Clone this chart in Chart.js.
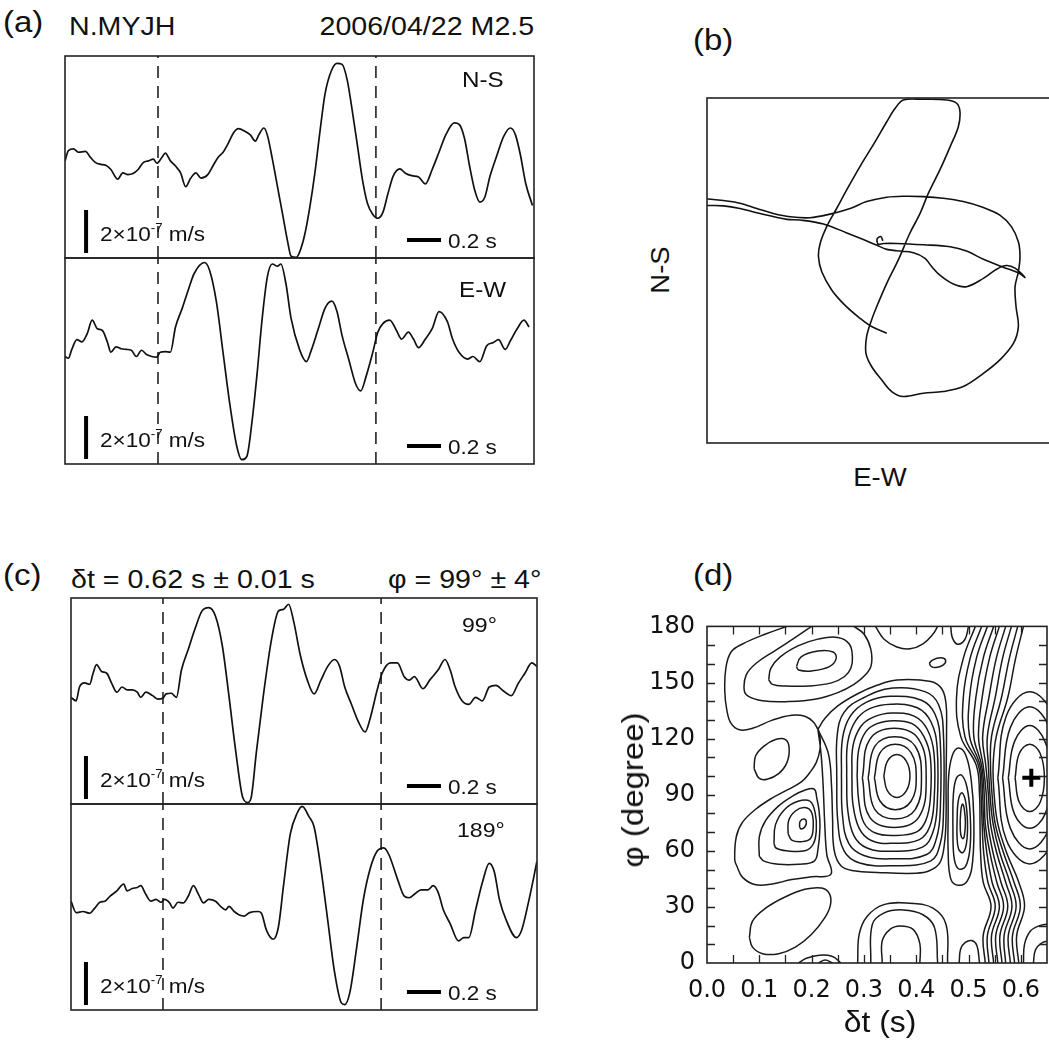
<!DOCTYPE html>
<html lang="en">
<head>
<meta charset="utf-8">
<title>N.MYJH shear-wave splitting</title>
<script src="https://cdn.jsdelivr.net/npm/chart.js@4.4.1/dist/chart.umd.min.js"></script>
<style>
  html, body { margin: 0; padding: 0; background: #fff; }
  body { position: relative; width: 1049px; height: 1043px; overflow: hidden; }
  canvas { position: absolute; }
  .t { position: absolute; font-family: "Liberation Sans", Arial, Helvetica, sans-serif; color: #111; line-height: 1; white-space: nowrap; }
  .l { transform-origin: 0 50%; transform: scaleX(1.1); }
  .r { transform-origin: 100% 50%; transform: scaleX(1.1); }
  .c { transform: translate(-50%, -50%) scaleX(1.1); }
  .v { transform: translate(-50%, -50%) rotate(-90deg) scaleX(1.1); }
  .sup { font-size: 12px; position: relative; top: -9px; }
</style>
</head>
<body>
<!-- (a) -->
<div class="t l" style="left:3px;top:7px;font-size:30px">(a)</div>
<div class="t l" style="left:69px;top:13px;font-size:26px">N.MYJH</div>
<div class="t r" style="right:515px;top:13px;font-size:26px">2006/04/22 M2.5</div>
<canvas id="ns" width="475" height="208" style="left:62px;top:53px"></canvas>
<canvas id="ew" width="475" height="212" style="left:62px;top:255px"></canvas>
<div class="t l" style="left:462px;top:69px;font-size:22px">N-S</div>
<div class="t l" style="left:459px;top:279px;font-size:22px">E-W</div>
<div class="t l" style="left:100px;top:224px;font-size:20.5px">2×10<span class="sup">-7</span> m/s</div>
<div class="t l" style="left:448px;top:231px;font-size:20.5px">0.2 s</div>
<div class="t l" style="left:100px;top:430px;font-size:20.5px">2×10<span class="sup">-7</span> m/s</div>
<div class="t l" style="left:448px;top:437px;font-size:20.5px">0.2 s</div>

<!-- (b) -->
<div class="t l" style="left:693px;top:25px;font-size:30px">(b)</div>
<canvas id="motion" width="351" height="351" style="left:704px;top:95px"></canvas>
<div class="t v" style="left:660px;top:270px;font-size:25px">N-S</div>
<div class="t c" style="left:880px;top:477px;font-size:25px">E-W</div>

<!-- (c) -->
<div class="t l" style="left:3px;top:560px;font-size:30px">(c)</div>
<div class="t l" style="left:71px;top:566px;font-size:26px">δt = 0.62 s ± 0.01 s</div>
<div class="t r" style="right:508px;top:566px;font-size:26px">φ = 99° ± 4°</div>
<canvas id="fast" width="472" height="212" style="left:68px;top:595px"></canvas>
<canvas id="slow" width="472" height="212" style="left:68px;top:801px"></canvas>
<div class="t l" style="left:462px;top:614px;font-size:21px">99°</div>
<div class="t l" style="left:457px;top:819px;font-size:21px">189°</div>
<div class="t l" style="left:100px;top:770px;font-size:20.5px">2×10<span class="sup">-7</span> m/s</div>
<div class="t l" style="left:448px;top:777px;font-size:20.5px">0.2 s</div>
<div class="t l" style="left:100px;top:976px;font-size:20.5px">2×10<span class="sup">-7</span> m/s</div>
<div class="t l" style="left:448px;top:983px;font-size:20.5px">0.2 s</div>

<!-- (d) -->
<div class="t l" style="left:693px;top:560px;font-size:30px">(d)</div>
<canvas id="grid" width="460" height="420" style="left:600px;top:600px"></canvas>
<div class="t v" style="left:633px;top:790px;font-size:30px">φ (degree)</div>
<div class="t c" style="left:880px;top:1022px;font-size:29px">δt (s)</div>

<script>
// ---- waveforms: [time (s), velocity (1e-7 m/s)] ----
const nsTrace = [[0.00,-0.18],[0.02,0.30],[0.05,0.38],[0.08,0.22],[0.12,0.26],[0.15,-0.02],[0.18,-0.26],[0.21,-0.34],[0.24,-0.38],[0.27,-0.58],[0.31,-1.03],[0.34,-0.74],[0.37,-0.82],[0.40,-0.77],[0.43,-0.58],[0.46,-0.26],[0.49,-0.18],[0.52,-0.10],[0.54,-0.29],[0.57,-0.02],[0.59,0.18],[0.62,-0.18],[0.65,-0.42],[0.68,-0.74],[0.71,-1.38],[0.74,-0.98],[0.77,-0.74],[0.80,-0.98],[0.84,-0.82],[0.87,-0.42],[0.90,-0.02],[0.93,0.22],[0.96,0.63],[0.99,1.11],[1.02,1.32],[1.06,1.19],[1.09,1.03],[1.12,0.74],[1.14,1.03],[1.17,1.35],[1.19,1.03],[1.22,-0.10],[1.25,-1.38],[1.28,-2.66],[1.31,-3.95],[1.33,-4.62],[1.36,-4.67],[1.38,-4.43],[1.41,-3.62],[1.44,-2.34],[1.47,-0.74],[1.50,1.19],[1.53,2.95],[1.57,4.07],[1.60,4.36],[1.63,4.31],[1.66,3.59],[1.69,2.15],[1.72,0.55],[1.75,-1.06],[1.78,-2.18],[1.81,-2.66],[1.84,-2.85],[1.87,-2.58],[1.90,-1.70],[1.93,-0.90],[1.97,-0.55],[2.00,-0.74],[2.04,-0.87],[2.08,-0.93],[2.12,-1.25],[2.16,-0.58],[2.20,0.22],[2.24,1.03],[2.29,1.59],[2.32,1.51],[2.35,0.87],[2.38,-0.42],[2.41,-1.54],[2.44,-2.10],[2.47,-1.86],[2.50,-0.90],[2.54,0.06],[2.58,0.95],[2.62,1.35],[2.65,1.03],[2.68,0.06],[2.71,-1.22],[2.75,-2.26]];
const ewTrace = [[0.00,0.21],[0.02,0.13],[0.04,0.54],[0.07,0.99],[0.10,0.89],[0.13,1.26],[0.16,1.90],[0.19,1.50],[0.22,1.42],[0.25,0.86],[0.27,0.41],[0.30,0.66],[0.33,0.57],[0.36,0.54],[0.39,0.50],[0.42,0.21],[0.45,0.50],[0.48,0.30],[0.51,0.21],[0.54,0.18],[0.56,0.41],[0.59,0.44],[0.62,0.41],[0.65,1.58],[0.69,2.46],[0.73,3.42],[0.76,4.07],[0.82,4.58],[0.85,4.23],[0.89,2.78],[0.93,0.38],[0.97,-2.03],[1.01,-3.95],[1.04,-4.59],[1.07,-4.43],[1.10,-2.83],[1.13,-0.59],[1.16,1.98],[1.19,3.90],[1.22,4.51],[1.25,4.41],[1.27,4.51],[1.30,3.58],[1.33,1.98],[1.38,0.53],[1.42,-0.03],[1.45,0.53],[1.49,1.50],[1.53,2.46],[1.57,2.78],[1.60,2.30],[1.63,1.18],[1.67,0.05],[1.71,-1.07],[1.74,-1.39],[1.77,-0.75],[1.81,0.38],[1.84,1.34],[1.87,1.74],[1.91,1.90],[1.95,1.42],[1.98,1.02],[2.02,1.34],[2.05,1.02],[2.08,0.62],[2.12,1.02],[2.16,1.50],[2.20,2.30],[2.25,1.82],[2.28,1.02],[2.32,0.38],[2.37,0.09],[2.40,0.21],[2.44,-0.03],[2.48,0.70],[2.52,0.86],[2.55,0.99],[2.59,0.54],[2.62,0.94],[2.66,1.50],[2.70,1.90],[2.73,1.58]];
const fastTrace = [[0.00,0.17],[0.03,0.01],[0.05,0.65],[0.08,0.84],[0.11,0.78],[0.13,1.29],[0.15,1.69],[0.18,1.37],[0.21,1.29],[0.24,0.81],[0.27,0.41],[0.30,0.65],[0.33,0.52],[0.36,0.52],[0.39,0.41],[0.41,0.17],[0.44,0.41],[0.48,0.25],[0.51,0.09],[0.54,0.13],[0.56,0.33],[0.59,0.36],[0.62,0.17],[0.65,1.45],[0.69,2.41],[0.73,3.37],[0.77,4.18],[0.81,4.34],[0.85,3.94],[0.89,2.57],[0.93,0.17],[0.97,-2.40],[1.01,-4.48],[1.04,-4.72],[1.06,-4.48],[1.09,-2.40],[1.13,0.17],[1.18,2.89],[1.22,4.18],[1.25,4.26],[1.28,4.50],[1.31,3.69],[1.35,2.09],[1.39,0.97],[1.43,0.33],[1.47,0.97],[1.51,1.61],[1.55,1.93],[1.58,1.61],[1.61,0.65],[1.65,-0.16],[1.69,-0.96],[1.73,-1.44],[1.76,-0.80],[1.80,0.49],[1.83,1.29],[1.88,1.77],[1.92,1.77],[1.96,1.13],[1.99,0.97],[2.02,1.13],[2.07,0.57],[2.11,0.97],[2.16,1.45],[2.20,1.93],[2.23,1.45],[2.26,0.65],[2.30,0.01],[2.34,-0.16],[2.38,0.17],[2.42,0.01],[2.46,0.65],[2.50,0.73],[2.54,0.49],[2.59,0.25],[2.63,0.81],[2.67,1.29],[2.71,1.77],[2.74,1.61]];
const slowTrace = [[0.00,0.27],[0.03,-0.26],[0.07,-0.21],[0.11,-0.29],[0.14,-0.05],[0.17,0.22],[0.20,0.27],[0.23,0.51],[0.27,0.75],[0.31,1.07],[0.33,0.75],[0.36,0.86],[0.39,0.91],[0.41,0.99],[0.44,0.59],[0.47,0.27],[0.50,0.35],[0.53,0.22],[0.55,0.35],[0.58,0.19],[0.60,-0.05],[0.63,0.22],[0.66,0.19],[0.69,0.51],[0.72,0.99],[0.75,0.59],[0.78,0.19],[0.81,0.35],[0.85,0.27],[0.88,0.03],[0.91,-0.13],[0.93,0.03],[0.96,-0.21],[0.99,-0.37],[1.02,-0.42],[1.05,-0.26],[1.10,-0.21],[1.12,-0.29],[1.15,-1.09],[1.19,-1.50],[1.22,-0.93],[1.25,0.99],[1.29,3.40],[1.33,4.36],[1.36,4.68],[1.40,4.20],[1.43,3.72],[1.47,1.79],[1.51,-0.61],[1.55,-3.02],[1.59,-4.46],[1.61,-4.54],[1.64,-3.98],[1.68,-1.90],[1.72,0.36],[1.76,1.79],[1.80,2.59],[1.84,2.75],[1.87,2.43],[1.92,1.31],[1.96,0.51],[1.99,0.43],[2.02,0.59],[2.06,0.80],[2.10,0.80],[2.13,0.99],[2.16,0.67],[2.19,-0.13],[2.23,-0.77],[2.28,-1.58],[2.31,-1.42],[2.34,-1.42],[2.38,-0.13],[2.42,1.15],[2.46,2.03],[2.49,1.63],[2.52,0.35],[2.56,-0.61],[2.62,-1.42],[2.65,-1.09],[2.69,0.19],[2.72,1.31],[2.74,2.11]];

// analysis windows (s)
const rawWindow = [0.547, 1.829];
const corrWindow = [0.541, 1.824];

// ---- particle motion: [E-W, N-S] (1e-7 m/s) ----
const motionPath = [[0.10,0.90],[0.04,1.03],[-0.07,0.96],[-0.04,0.80],[0.12,0.82],[0.52,0.82],[1.33,0.78],[2.14,0.72],[2.64,0.59],[3.15,0.34],[3.75,0.10],[4.21,-0.07],[4.41,-0.21],[4.11,0.07],[3.85,0.15],[3.55,0.04],[3.15,-0.24],[2.64,-0.49],[2.24,-0.41],[1.83,-0.14],[1.58,0.12],[1.38,0.37],[1.03,0.54],[0.52,0.60],[0.22,0.64],[-0.09,0.77],[-0.49,0.94],[-0.99,1.14],[-1.70,1.41],[-2.41,1.53],[-2.81,1.55],[-3.72,1.75],[-4.23,1.88],[-4.73,1.96],[-5.19,1.97],[-5.49,1.98],[-5.49,2.18],[-5.19,2.17],[-4.73,2.12],[-4.23,2.04],[-3.72,1.88],[-3.22,1.73],[-2.71,1.63],[-2.11,1.60],[-1.50,1.71],[-0.89,1.88],[-0.39,2.09],[0.22,2.22],[0.72,2.25],[1.33,2.24],[1.93,2.19],[2.54,2.09],[3.15,1.91],[3.65,1.68],[4.00,1.33],[4.21,0.87],[4.26,0.42],[4.21,-0.04],[4.11,-0.49],[4.14,-1.10],[4.21,-1.70],[4.06,-2.21],[3.65,-2.71],[3.15,-3.12],[2.54,-3.52],[1.93,-3.67],[1.33,-3.72],[0.72,-3.82],[0.37,-3.67],[0.07,-3.32],[-0.24,-2.91],[-0.41,-2.51],[-0.39,-2.00],[-0.24,-1.50],[-0.04,-0.99],[0.22,-0.39],[0.57,0.32],[0.92,1.13],[1.23,1.73],[1.48,2.34],[1.83,3.05],[2.14,3.75],[2.39,4.36],[2.44,4.81],[2.34,5.07],[2.04,5.17],[1.33,5.19],[0.72,5.17],[0.47,4.91],[0.22,4.51],[-0.14,3.89],[-0.54,3.24],[-0.94,2.54],[-1.30,1.88],[-1.60,1.33],[-1.80,0.82],[-1.85,0.42],[-1.75,-0.04],[-1.45,-0.59],[-1.05,-1.05],[-0.59,-1.45],[-0.24,-1.70],[0.22,-1.90]];

// ---- energy contours: [dt (s), phi (deg)] ----
const ulCore = [[0.171,158.5],[0.180,163.7],[0.212,166.8],[0.241,166.3],[0.247,162.9],[0.234,158.5],[0.200,156.2],[0.175,156.7],[0.171,158.5]];
const ulRing = [[0.118,151.5],[0.122,157.6],[0.140,163.7],[0.175,169.7],[0.212,173.2],[0.250,174.1],[0.272,170.6],[0.278,163.7],[0.275,157.6],[0.263,153.2],[0.238,149.8],[0.194,148.1],[0.150,148.1],[0.125,149.0],[0.118,151.5]];
const ulOpen = [[0.200,180],[0.169,174.1],[0.131,167.2],[0.094,160.3],[0.075,154.1],[0.071,146.3],[0.078,142.8],[0.106,140.2],[0.156,139.8],[0.206,141],[0.250,144.6],[0.281,149],[0.303,154.1],[0.314,159.3],[0.313,168],[0.300,175.9],[0.281,180]];
const ulRim = [[0.153,180],[0.112,175.9],[0.068,170.6],[0.046,166.3],[0.036,157.6],[0.034,145.5],[0.038,135.1],[0.046,128.1],[0.062,124.7],[0.087,125.5],[0.125,129.9],[0.162,132.5],[0.187,132],[0.203,129],[0.212,125]];
const midIsle = [[0.090,103.9],[0.093,110.8],[0.109,116],[0.131,119.5],[0.150,119.5],[0.157,115.1],[0.153,107.3],[0.137,101.3],[0.115,98.3],[0.100,98.7],[0.090,103.9]];

const llCore = [[0.177,72.7],[0.178,75.8],[0.186,77],[0.190,75.3],[0.187,72.7],[0.180,71.6],[0.177,72.7]];
const llRing1 = [[0.155,69.2],[0.156,76.1],[0.169,81.3],[0.187,83.1],[0.200,80.5],[0.203,72.7],[0.198,66.6],[0.181,64.9],[0.162,65.7],[0.155,69.2]];
const llRing2 = [[0.128,64],[0.131,74],[0.148,82],[0.174,86.5],[0.197,86.5],[0.207,80],[0.209,71],[0.203,63.5],[0.187,60],[0.152,60],[0.132,61.5],[0.128,64]];
const llRing3 = [[0.100,57.1],[0.100,67.5],[0.112,76.1],[0.137,84],[0.165,89.5],[0.188,92.5],[0.205,93],[0.210,88],[0.214,82],[0.216,72.7],[0.212,60.5],[0.205,54.5],[0.175,52.8],[0.137,52.8],[0.109,54.5],[0.100,57.1]];
const llRing4 = [[0.212,125],[0.218,112],[0.222,95],[0.225,75],[0.229,58],[0.237,47.5],[0.200,46.1],[0.162,44.6],[0.125,42.3],[0.093,41.8],[0.068,45.8],[0.057,51.9],[0.053,55.3],[0.056,67.5],[0.068,75.3],[0.093,82.2],[0.125,88.3],[0.150,92],[0.181,97],[0.197,102],[0.209,107.3],[0.216,114.3],[0.216,121.2],[0.212,125]];

const lowIsle = [[0.081,13.7],[0.087,22.4],[0.112,29.3],[0.150,35.4],[0.187,39.4],[0.219,40.1],[0.234,37.1],[0.236,31.1],[0.225,24.1],[0.200,15.4],[0.169,8.5],[0.137,5.0],[0.106,5.0],[0.087,8.5],[0.081,13.7]];
const lowArc = [[0.175,0],[0.190,2.5],[0.215,4.2],[0.240,3.5],[0.256,0]];
const lowArcIn = [[0.213,0],[0.226,1.6],[0.240,0]];

const dRing0 = [[0.338,100],[0.345,108],[0.363,111.5],[0.381,108],[0.388,100],[0.381,92],[0.363,88.5],[0.345,92],[0.338,100]];
const dRing1 = [[0.320,99],[0.331,112.5],[0.360,117],[0.390,112.5],[0.400,99],[0.390,86.5],[0.360,82],[0.331,86.5],[0.320,99]];
const dRing2 = [[0.308,99],[0.321,116],[0.359,121],[0.398,116],[0.410,99],[0.398,82],[0.359,77],[0.321,82],[0.308,99]];
const dRing3 = [[0.297,99],[0.311,119.5],[0.358,125.5],[0.405,119.5],[0.419,99],[0.405,78],[0.358,72.5],[0.311,78],[0.297,99]];
const dRing4 = [[0.287,100],[0.290,114],[0.303,123.5],[0.325,128],[0.357,129.6],[0.392,128],[0.414,121.5],[0.427,110],[0.427,88],[0.418,76],[0.400,70],[0.357,68.2],[0.322,69.5],[0.300,75],[0.290,87],[0.287,100]];
const dRing5 = [[0.277,100],[0.279,116],[0.294,126.5],[0.318,131.5],[0.354,133.7],[0.396,132],[0.421,125],[0.434,112],[0.434,86],[0.426,73],[0.406,66],[0.354,64],[0.314,65.5],[0.291,72],[0.279,85],[0.277,100]];
const dRing6 = [[0.267,100],[0.269,118],[0.284,129.5],[0.311,136],[0.352,138.4],[0.402,136.5],[0.428,129],[0.440,115],[0.440,84],[0.432,70],[0.412,62],[0.352,59.8],[0.306,61.5],[0.281,68],[0.269,82],[0.267,100]];
const dRing7 = [[0.257,100],[0.259,120],[0.274,132],[0.305,139.5],[0.350,142.6],[0.410,140.5],[0.436,133],[0.446,118],[0.446,82],[0.439,67],[0.420,58],[0.350,55.7],[0.300,57.5],[0.271,64],[0.259,79],[0.257,100]];
const dRing8 = [[0.248,100],[0.249,122],[0.262,134],[0.297,141.5],[0.355,147],[0.418,145],[0.443,138],[0.452,122],[0.452,80],[0.446,64],[0.427,54.5],[0.355,52],[0.292,53.5],[0.262,60],[0.250,76],[0.248,100]];
const dRing9 = [[0.212,125],[0.226,131],[0.250,137.5],[0.288,144],[0.325,148.5],[0.363,151.4],[0.428,150.5],[0.449,146.5],[0.457,138.5],[0.458,126],[0.457,95],[0.457,78],[0.454,64],[0.445,53.5],[0.425,49.3],[0.400,48],[0.325,48.4],[0.281,49.3],[0.256,52],[0.243,60.5],[0.240,78],[0.238,95],[0.232,112],[0.212,125]];

const eRing0 = [[0.335,0],[0.335,11.9],[0.350,18],[0.369,19.8],[0.394,18],[0.407,10.2],[0.407,0]];
const eRing1 = [[0.313,0],[0.316,20.6],[0.338,26.7],[0.375,28.4],[0.413,25.8],[0.435,18.9],[0.441,0]];
const eRing2 = [[0.288,0],[0.291,15.4],[0.306,24.9],[0.338,31.2],[0.388,31.9],[0.432,29.3],[0.457,20.6],[0.460,0]];
const eTopArc = [[0.322,180],[0.338,173.3],[0.363,169],[0.388,168],[0.413,170.7],[0.432,175.9],[0.441,180]];
const fIsle = [[0.425,160.2],[0.431,162],[0.447,163.2],[0.456,162],[0.452,159.4],[0.438,158],[0.429,158.5],[0.425,160.2]];
const gArc = [[0.466,180],[0.469,174],[0.479,170.5],[0.493,173],[0.500,180]];
const kArc = [[0.482,0],[0.485,7.6],[0.494,11],[0.506,12],[0.516,9.4],[0.521,0]];

const hRing0 = [[0.484,76],[0.486,83],[0.489,85],[0.492,82],[0.494,75],[0.492,68],[0.489,66.5],[0.485,69],[0.484,76]];
const hRing1 = [[0.478,75],[0.480,86],[0.487,91],[0.494,87],[0.498,75],[0.496,64],[0.489,59],[0.481,61],[0.478,68],[0.478,75]];
const hRing2 = [[0.470,75],[0.471,90],[0.477,99],[0.487,100.4],[0.497,94],[0.503,80],[0.503,62],[0.494,51.5],[0.480,50.5],[0.472,57],[0.470,75]];
const hRing3 = [[0.461,80],[0.462,100],[0.469,111],[0.481,115],[0.495,111],[0.505,98],[0.510,78],[0.508,55],[0.498,44],[0.480,41.6],[0.466,45],[0.461,60],[0.461,80]];

const jRing0 = [[0.589,99],[0.597,112],[0.617,117],[0.637,112],[0.645,99],[0.637,86],[0.617,81],[0.597,86],[0.589,99]];
const jRing1 = [[0.576,99],[0.588,118.5],[0.617,127],[0.646,118.5],[0.658,99],[0.646,79.5],[0.617,72],[0.588,79.5],[0.576,99]];
const jRing2 = [[0.565,99],[0.580,126],[0.617,137],[0.654,126],[0.669,99],[0.654,72],[0.617,61],[0.580,72],[0.565,99]];
const jRing3 = [[0.556,99],[0.572,132],[0.617,145],[0.662,132],[0.678,99],[0.662,66],[0.617,53],[0.572,66],[0.556,99]];
const jLowArc1 = [[0.605,0],[0.607,10],[0.618,17],[0.636,20],[0.660,21]];
const jLowArc2 = [[0.624,0],[0.628,7],[0.642,11],[0.660,12]];

// steep band between the two minima: shared phi levels, one dt row per line
const bandPhi = [180, 162.9, 142, 121.2, 105.6, 90, 74.4, 58.8, 43.2, 30.2, 14.6, 0];
const bandDt = [
  [0.513,0.490,0.477,0.485,0.515,0.521,0.522,0.523,0.528,0.543,0.528,0.532],
  [0.525,0.503,0.490,0.493,0.519,0.524,0.526,0.529,0.537,0.551,0.536,0.539],
  [0.536,0.515,0.502,0.502,0.522,0.527,0.529,0.535,0.545,0.559,0.544,0.548],
  [0.548,0.528,0.514,0.510,0.525,0.530,0.532,0.541,0.554,0.567,0.552,0.556],
  [0.559,0.540,0.526,0.519,0.528,0.534,0.537,0.547,0.562,0.575,0.560,0.564],
  [0.571,0.553,0.539,0.527,0.533,0.538,0.542,0.554,0.571,0.583,0.568,0.571],
  [0.582,0.565,0.551,0.536,0.538,0.541,0.547,0.560,0.579,0.591,0.576,0.580],
  [0.594,0.578,0.563,0.544,0.542,0.545,0.551,0.567,0.587,0.599,0.584,0.588],
  [0.605,0.590,0.575,0.553,0.547,0.549,0.556,0.573,0.596,0.607,0.592,0.596],
];

const bestFit = [0.62, 99];
const dtTicks = [0, 0.1, 0.2, 0.3, 0.4, 0.5, 0.6];
const phiTicks = [0, 30, 60, 90, 120, 150, 180];

const contours = [
  ulCore, ulRing, ulOpen, ulRim, midIsle,
  llCore, llRing1, llRing2, llRing3, llRing4, lowIsle, lowArc, lowArcIn,
  dRing0, dRing1, dRing2, dRing3, dRing4, dRing5, dRing6, dRing7, dRing8, dRing9,
  eRing0, eRing1, eRing2, eTopArc, fIsle, gArc, kArc,
  hRing0, hRing1, hRing2, hRing3,
  jRing0, jRing1, jRing2, jRing3, jLowArc1, jLowArc2,
  ...bandDt.map((row) => row.map((dt, i) => [dt, bandPhi[i]])),
];

// ---------------------------------------------------------------
const PAD = 3;
const INK = "#111";
const toXY = (pairs) => pairs.map(([x, y]) => ({ x, y }));

// box around the plot area
const frame = {
  id: "frame",
  afterDraw(chart) {
    const { ctx, chartArea: a } = chart;
    ctx.save();
    ctx.strokeStyle = "#222";
    ctx.lineWidth = 1.6;
    ctx.strokeRect(a.left, a.top, a.right - a.left, a.bottom - a.top);
    ctx.restore();
  },
};

// amplitude and time scale bars, sized through the chart's own scales
const scaleBars = {
  id: "scaleBars",
  afterDatasetsDraw(chart, args, o) {
    const { ctx, chartArea: a, scales: { x, y } } = chart;
    ctx.save();
    ctx.fillStyle = "#000";
    const h = y.getPixelForValue(0) - y.getPixelForValue(o.ampLen);
    const xv = x.getPixelForValue(o.ampAt);
    ctx.fillRect(xv - 2, a.bottom - 5 - h, 4, h);
    const x0 = x.getPixelForValue(o.timeAt);
    const x1 = x.getPixelForValue(o.timeAt + o.timeLen);
    ctx.fillRect(x0, a.bottom - 20, x1 - x0, 4);
    ctx.restore();
  },
};

// tick marks pointing into the plot on all four sides
const inwardTicks = {
  id: "inwardTicks",
  afterDraw(chart, args, o) {
    const { ctx, chartArea: a, scales: { x, y } } = chart;
    ctx.save();
    ctx.strokeStyle = "#222";
    ctx.lineWidth = 1.3;
    ctx.beginPath();
    for (let i = 1; i * o.xStep < x.max - 1e-9; i++) {
      const px = Math.round(x.getPixelForValue(i * o.xStep)) + 0.5;
      ctx.moveTo(px, a.bottom); ctx.lineTo(px, a.bottom - o.len);
      ctx.moveTo(px, a.top); ctx.lineTo(px, a.top + o.len);
    }
    for (let i = 1; i * o.yStep < y.max - 1e-9; i++) {
      const py = Math.round(y.getPixelForValue(i * o.yStep)) + 0.5;
      ctx.moveTo(a.left, py); ctx.lineTo(a.left + o.len, py);
      ctx.moveTo(a.right, py); ctx.lineTo(a.right - o.len, py);
    }
    ctx.stroke();
    ctx.restore();
  },
};

function bareOptions(xMin, xMax, yMin, yMax) {
  return {
    responsive: false,
    animation: false,
    devicePixelRatio: 1,
    layout: { padding: PAD },
    elements: { point: { radius: 0 } },
    plugins: { legend: { display: false }, tooltip: { enabled: false } },
    scales: {
      x: { type: "linear", display: false, min: xMin, max: xMax },
      y: { type: "linear", display: false, min: yMin, max: yMax },
    },
  };
}

function drawTrace(id, trace, windowTimes, tMax, yMax, bars) {
  const datasets = [
    { data: toXY(trace), borderColor: INK, borderWidth: 1.7, cubicInterpolationMode: "monotone" },
  ];
  windowTimes.forEach((t) => {
    datasets.push({
      data: [{ x: t, y: -yMax }, { x: t, y: yMax }],
      borderColor: "#222",
      borderWidth: 1.6,
      borderDash: [12, 8],
    });
  });
  const options = bareOptions(0, tMax, -yMax, yMax);
  options.plugins.scaleBars = bars;
  new Chart(document.getElementById(id), {
    type: "line",
    data: { datasets },
    options,
    plugins: [scaleBars, frame],
  });
}

const rawBars = { ampAt: 0.124, ampLen: 2, timeAt: 2.012, timeLen: 0.2 };
const corrBars = { ampAt: 0.088, ampLen: 2, timeAt: 1.976, timeLen: 0.2 };

drawTrace("ns", nsTrace, rawWindow, 2.759, 4.70, rawBars);
drawTrace("ew", ewTrace, rawWindow, 2.759, 4.79, rawBars);
drawTrace("fast", fastTrace, corrWindow, 2.741, 4.79, corrBars);
drawTrace("slow", slowTrace, corrWindow, 2.741, 4.79, corrBars);

// particle motion
new Chart(document.getElementById("motion"), {
  type: "line",
  data: {
    datasets: [{ data: toXY(motionPath), borderColor: INK, borderWidth: 1.6, tension: 0.35 }],
  },
  options: bareOptions(-5.23, 5.23, -5.23, 5.23),
  plugins: [frame],
});

// energy grid contours
const tickFont = { family: "'DejaVu Sans', sans-serif", size: 24 };
const gridSets = contours.map((c) => ({
  data: toXY(c),
  borderColor: "#1a1a1a",
  borderWidth: 1.5,
  tension: 0.4,
}));
gridSets.push({
  data: [{ x: bestFit[0], y: bestFit[1] }],
  showLine: false,
  pointStyle: "cross",
  pointRadius: 9,
  pointBorderWidth: 4,
  pointBorderColor: "#000",
  borderColor: "#000",
});

new Chart(document.getElementById("grid"), {
  type: "line",
  data: { datasets: gridSets },
  options: {
    responsive: false,
    animation: false,
    devicePixelRatio: 1,
    layout: { padding: { left: 47, top: 17, right: 7, bottom: 12 } },
    elements: { point: { radius: 0 } },
    plugins: {
      legend: { display: false },
      tooltip: { enabled: false },
      inwardTicks: { xStep: 0.05, yStep: 10, len: 8 },
    },
    scales: {
      x: {
        type: "linear",
        min: 0,
        max: 0.65,
        grid: { display: false, drawTicks: false },
        border: { display: false },
        afterBuildTicks: (s) => { s.ticks = dtTicks.map((v) => ({ value: v })); },
        afterFit: (s) => { s.height = 45; },
        ticks: { callback: (v) => v.toFixed(1), font: tickFont, color: INK, padding: 13, maxRotation: 0, autoSkip: false },
      },
      y: {
        type: "linear",
        min: 0,
        max: 180,
        grid: { display: false, drawTicks: false },
        border: { display: false },
        afterBuildTicks: (s) => { s.ticks = phiTicks.map((v) => ({ value: v })); },
        afterFit: (s) => { s.width = 60; },
        ticks: { font: tickFont, color: INK, padding: 12, autoSkip: false },
      },
    },
  },
  plugins: [inwardTicks, frame],
});
</script>
</body>
</html>
